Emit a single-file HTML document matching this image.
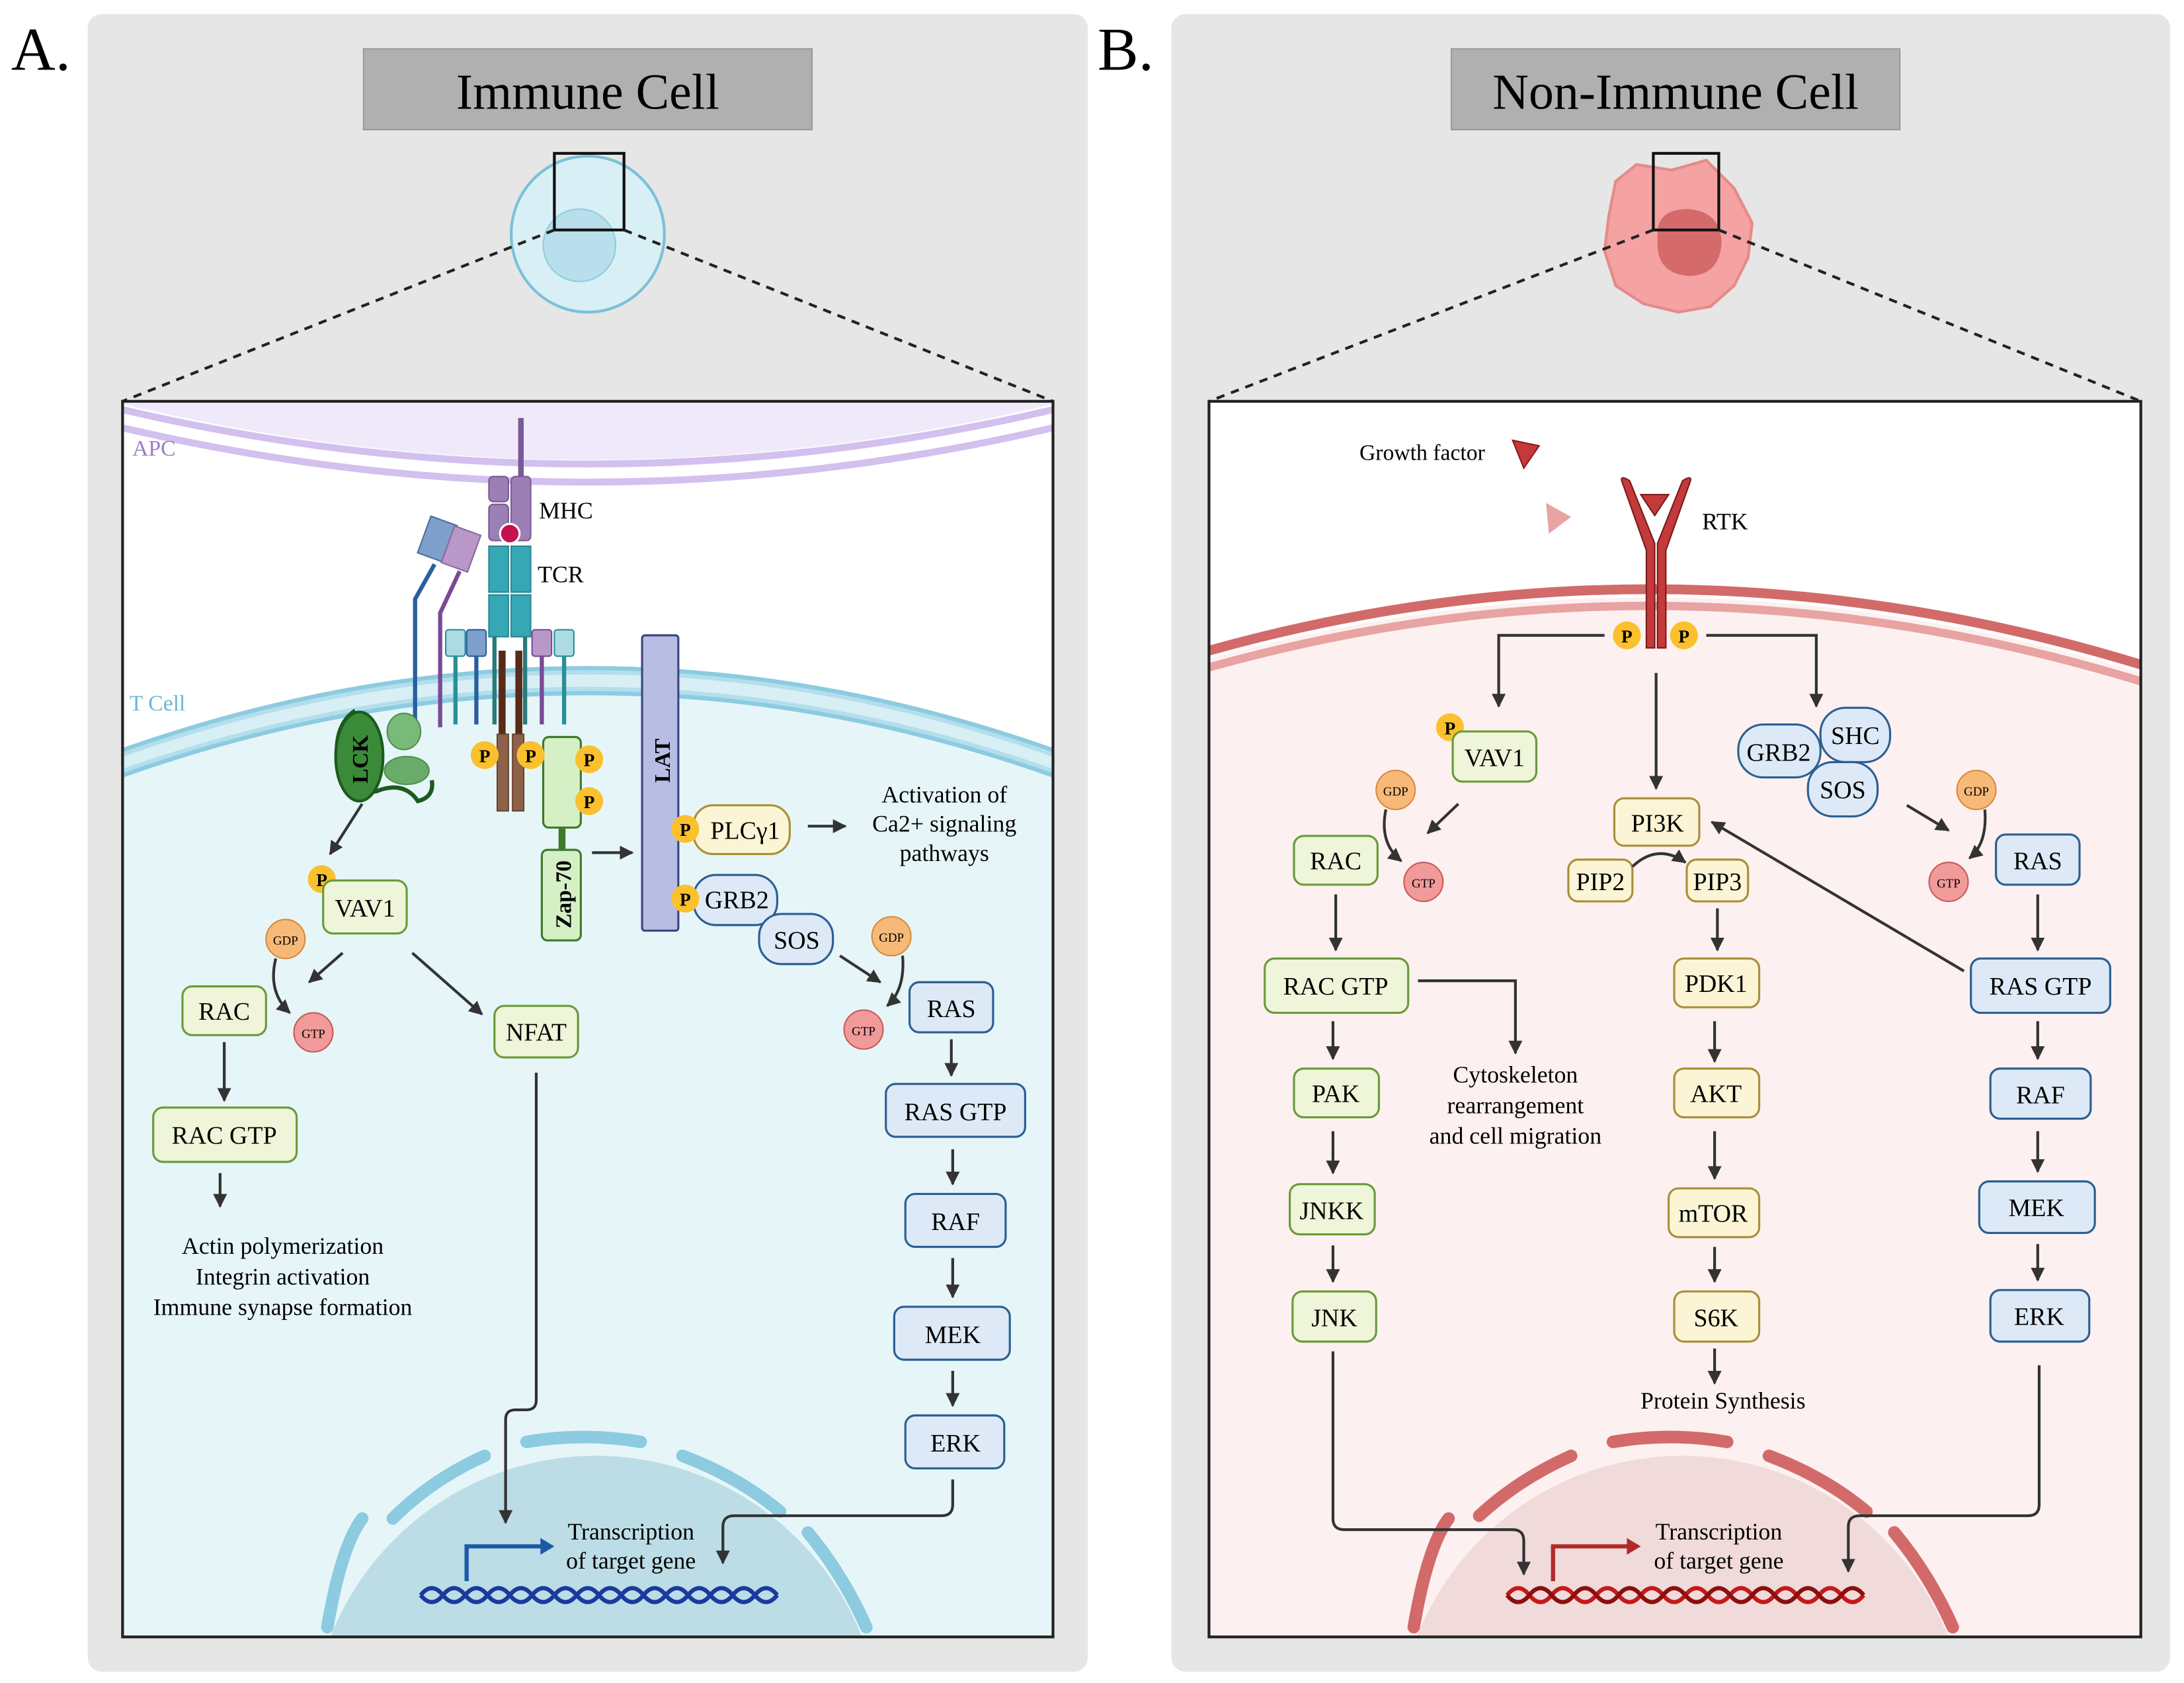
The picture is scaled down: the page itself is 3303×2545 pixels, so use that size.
<!DOCTYPE html>
<html><head><meta charset="utf-8"><style>
html,body{margin:0;padding:0;background:#fff;width:3303px;height:2545px;overflow:hidden;position:relative}
svg{display:block;position:absolute;left:0;top:0}
text{font-family:"Liberation Serif",serif}
</style></head><body>
<svg width="3303" height="2545" viewBox="0 0 1568 1208" xmlns="http://www.w3.org/2000/svg">
<defs>
<marker id="ar" viewBox="0 0 10 10" refX="9" refY="5" markerWidth="5" markerHeight="5" orient="auto"><path d="M0,0 L10,5 L0,10 z" fill="#333"/></marker>
<clipPath id="cA"><rect x="88" y="288" width="668" height="887"/></clipPath>
<clipPath id="cB"><rect x="868" y="288" width="669" height="887"/></clipPath>
</defs>
<rect width="1568" height="1208" fill="#fff"/>
<text x="8" y="50" font-size="44">A.</text>
<text x="788" y="50" font-size="44">B.</text>
<rect x="63" y="10" width="718" height="1190" rx="10" fill="#e6e6e6"/>
<rect x="841" y="10" width="717" height="1190" rx="10" fill="#e6e6e6"/>
<rect x="261" y="35" width="322" height="58" fill="#b0b0b0" stroke="#9a9a9a"/>
<text x="422" y="78" font-size="36" text-anchor="middle">Immune Cell</text>
<rect x="1042" y="35" width="322" height="58" fill="#b0b0b0" stroke="#9a9a9a"/>
<text x="1203" y="78" font-size="36" text-anchor="middle">Non-Immune Cell</text>
<ellipse cx="422" cy="168" rx="55" ry="56" fill="#d8eff5" stroke="#7cc0d8" stroke-width="2"/>
<circle cx="416" cy="176" r="26" fill="#b8dfeb" stroke="#8ecde0"/>
<rect x="398" y="110" width="50" height="55" fill="none" stroke="#111" stroke-width="2"/>
<path d="M1160,130 L1175,118 L1200,122 L1225,115 L1245,135 L1258,160 L1255,185 L1245,205 L1228,220 L1205,224 L1180,218 L1160,205 L1152,180 L1155,155 Z" fill="#f4a2a2" stroke="#e58a8a" stroke-width="2"/>
<path d="M1190,165 Q1192,150 1212,150 Q1236,152 1236,175 Q1234,198 1212,198 Q1190,196 1190,175Z" fill="#d46a6a"/>
<rect x="1187" y="110" width="47" height="55" fill="none" stroke="#111" stroke-width="2"/>
<g stroke="#222" stroke-width="2" stroke-dasharray="6,5">
<line x1="398" y1="165" x2="88" y2="288"/><line x1="448" y1="165" x2="756" y2="288"/>
<line x1="1187" y1="165" x2="868" y2="288"/><line x1="1234" y1="165" x2="1537" y2="288"/>
</g>
<rect x="88" y="288" width="668" height="887" fill="#fff"/>
<g clip-path="url(#cA)">
<path d="M88,290 Q422,370 756,290 L756,288 L88,288Z" fill="#efe9f9"/>
<path d="M88,294 Q422,372 756,294" fill="none" stroke="#d2c0ef" stroke-width="5"/>
<path d="M88,307 Q422,385 756,307" fill="none" stroke="#d2c0ef" stroke-width="5"/>
<path d="M88,540 Q422,422 756,540 L756,1175 L88,1175Z" fill="#e6f6f8"/>
<path d="M88,540 Q422,422 756,540" fill="none" stroke="#8ccbe0" stroke-width="6"/>
<path d="M88,555 Q422,437 756,555" fill="none" stroke="#8ccbe0" stroke-width="6"/>
<path d="M88,540 Q422,422 756,540 L756,555 Q422,437 88,555Z" fill="#cdebf3" opacity="0.6"/>
<path d="M237.2,1175 A205,205 0 0 1 618.8,1175 Z" fill="#bcdde6"/>
<g fill="none" stroke="#8ccbe0" stroke-width="9" stroke-linecap="round">
<path d="M235,1168 Q245,1110 260,1090" /><path d="M282,1090 Q310,1062 348,1045"/>
<path d="M378,1035 Q420,1028 460,1035"/><path d="M490,1045 Q530,1060 560,1085"/>
<path d="M580,1100 Q605,1130 622,1168"/>
</g>
</g>
<rect x="88" y="288" width="668" height="887" fill="none" stroke="#222" stroke-width="2"/>
<text x="95" y="327" font-size="16" fill="#9b7ec2">APC</text>
<text x="93" y="510" font-size="16" fill="#6bb8d3">T Cell</text>
<line x1="374" y1="300" x2="374" y2="345" stroke="#7a5a96" stroke-width="4"/>
<rect x="351" y="342" width="14" height="18" rx="3" fill="#9b7fb5" stroke="#7a5a96"/>
<rect x="351" y="362" width="14" height="26" rx="3" fill="#9b7fb5" stroke="#7a5a96"/>
<rect x="367" y="342" width="14" height="46" rx="3" fill="#9b7fb5" stroke="#7a5a96"/>
<circle cx="366" cy="383" r="7" fill="#c5124f" stroke="#fff" stroke-width="1.5"/>
<rect x="351" y="392" width="14" height="33" fill="#36a7b4" stroke="#2a8793"/>
<rect x="367" y="392" width="14" height="33" fill="#36a7b4" stroke="#2a8793"/>
<rect x="351" y="427" width="14" height="30" fill="#36a7b4" stroke="#2a8793"/>
<rect x="367" y="427" width="14" height="30" fill="#36a7b4" stroke="#2a8793"/>
<line x1="355" y1="457" x2="355" y2="520" stroke="#2b7a7a" stroke-width="3"/>
<line x1="377" y1="457" x2="377" y2="520" stroke="#2b7a7a" stroke-width="3"/>
<rect x="358" y="467" width="5" height="60" fill="#5a2a18"/><rect x="370" y="467" width="5" height="60" fill="#5a2a18"/>
<rect x="357" y="527" width="8" height="55" fill="#8d6248" stroke="#6a4430"/><rect x="368" y="527" width="8" height="55" fill="#8d6248" stroke="#6a4430"/>
<text x="387" y="372" font-size="17">MHC</text>
<text x="386" y="418" font-size="17">TCR</text>
<path d="M298,522 L298,430 L312,405" fill="none" stroke="#2a5f9e" stroke-width="3"/>
<path d="M316,522 L316,440 L330,410" fill="none" stroke="#7a4a96" stroke-width="3"/>
<rect x="304" y="373" width="20" height="28" transform="rotate(20 314 387)" fill="#7f9fcc" stroke="#4a6ea0"/>
<rect x="321" y="380" width="20" height="28" transform="rotate(20 331 394)" fill="#b898c8" stroke="#8a68a0"/>
<g stroke-width="3"><line x1="327" y1="470" x2="327" y2="520" stroke="#2a8f96"/><line x1="342" y1="470" x2="342" y2="520" stroke="#2a5f9e"/><line x1="389" y1="470" x2="389" y2="520" stroke="#7a4a96"/><line x1="405" y1="470" x2="405" y2="520" stroke="#2a8f96"/></g>
<rect x="320" y="452" width="14" height="19" rx="2" fill="#acdbe2" stroke="#2a8f96"/>
<rect x="335" y="452" width="14" height="19" rx="2" fill="#7f9fcc" stroke="#2a5f9e"/>
<rect x="382" y="452" width="14" height="19" rx="2" fill="#b898c8" stroke="#7a4a96"/>
<rect x="398" y="452" width="14" height="19" rx="2" fill="#acdbe2" stroke="#2a8f96"/>
<path d="M255,510 Q240,520 242,545 Q245,570 270,568 Q290,560 300,575 Q312,572 310,560" fill="none" stroke="#1d5a1d" stroke-width="3"/>
<ellipse cx="258" cy="543" rx="17" ry="32" fill="#3a8a3a" stroke="#1d5a1d" stroke-width="2"/>
<ellipse cx="290" cy="525" rx="12" ry="13" fill="#79b979" stroke="#4f8f4f"/>
<ellipse cx="292" cy="553" rx="16" ry="10" fill="#6aab6a" stroke="#4f8f4f"/>
<text x="264" y="545" font-size="16" font-weight="bold" transform="rotate(-90 264 545)" text-anchor="middle">LCK</text>
<rect x="390" y="529" width="27" height="65" rx="4" fill="#d6f0c6" stroke="#3f7a2a" stroke-width="1.5"/>
<rect x="401" y="594" width="5" height="17" fill="#3f7a2a"/>
<rect x="389" y="610" width="28" height="65" rx="4" fill="#d6f0c6" stroke="#3f7a2a" stroke-width="1.5"/>
<text x="410" y="642" font-size="16" font-weight="bold" transform="rotate(-90 410 642)" text-anchor="middle">Zap-70</text>
<rect x="461" y="456" width="26" height="212" rx="2" fill="#b8bde3" stroke="#3c4680" stroke-width="1.5"/>
<text x="481" y="546" font-size="16" font-weight="bold" transform="rotate(-90 481 546)" text-anchor="middle">LAT</text>
<g font-size="13" font-weight="bold" text-anchor="middle">
<circle cx="348" cy="542" r="10" fill="#fbc02d"/><text x="348" y="547">P</text>
<circle cx="381" cy="542" r="10" fill="#fbc02d"/><text x="381" y="547">P</text>
<circle cx="423" cy="545" r="10" fill="#fbc02d"/><text x="423" y="550">P</text>
<circle cx="423" cy="575" r="10" fill="#fbc02d"/><text x="423" y="580">P</text>
</g>
<line x1="425" y1="612" x2="454" y2="612" stroke="#333" stroke-width="2" marker-end="url(#ar)"/>
<rect x="498" y="578" width="69" height="35" rx="14" fill="#fbf5d6" stroke="#a8903a" stroke-width="1.5"/>
<text x="535" y="602" font-size="18" text-anchor="middle">PLCγ1</text>
<rect x="498" y="628" width="60" height="36" rx="16" fill="#dde9f6" stroke="#2a5f93" stroke-width="1.5"/>
<text x="529" y="652" font-size="18" text-anchor="middle">GRB2</text>
<rect x="545" y="656" width="53" height="36" rx="16" fill="#dde9f6" stroke="#2a5f93" stroke-width="1.5"/>
<text x="572" y="681" font-size="18" text-anchor="middle">SOS</text>
<g font-size="13" font-weight="bold" text-anchor="middle">
<circle cx="492" cy="595" r="10" fill="#fbc02d"/><text x="492" y="600">P</text>
<circle cx="492" cy="645" r="10" fill="#fbc02d"/><text x="492" y="650">P</text>
<circle cx="231" cy="631" r="10" fill="#fbc02d"/><text x="231" y="636">P</text>
</g>
<line x1="580" y1="593" x2="607" y2="593" stroke="#333" stroke-width="2" marker-end="url(#ar)"/>
<text x="678" y="576" font-size="17" text-anchor="middle">Activation of</text>
<text x="678" y="597" font-size="17" text-anchor="middle">Ca2+ signaling</text>
<text x="678" y="618" font-size="17" text-anchor="middle">pathways</text>
<g fill="#eef5d8" stroke="#6a9a3a" stroke-width="1.5">
<rect x="232" y="632" width="60" height="38" rx="7"/>
<rect x="131" y="708" width="60" height="35" rx="7"/>
<rect x="110" y="795" width="103" height="39" rx="7"/>
<rect x="355" y="722" width="60" height="37" rx="7"/>
</g>
<g font-size="18" text-anchor="middle">
<text x="262" y="658">VAV1</text><text x="161" y="732">RAC</text><text x="161" y="821">RAC GTP</text><text x="385" y="747">NFAT</text>
</g>
<g fill="#dde9f6" stroke="#2a5f93" stroke-width="1.5">
<rect x="653" y="705" width="60" height="36" rx="7"/>
<rect x="636" y="778" width="100" height="38" rx="7"/>
<rect x="650" y="857" width="72" height="38" rx="7"/>
<rect x="642" y="938" width="83" height="38" rx="7"/>
<rect x="650" y="1016" width="71" height="38" rx="7"/>
</g>
<g font-size="18" text-anchor="middle">
<text x="683" y="730">RAS</text><text x="686" y="804">RAS GTP</text><text x="686" y="883">RAF</text><text x="684" y="964">MEK</text><text x="686" y="1042">ERK</text>
</g>
<g font-size="9" text-anchor="middle">
<circle cx="205" cy="674" r="14" fill="#f7b978" stroke="#d98a3a"/><text x="205" y="678">GDP</text>
<circle cx="225" cy="741" r="14" fill="#f19a9a" stroke="#c85a5a"/><text x="225" y="745">GTP</text>
<circle cx="640" cy="672" r="14" fill="#f7b978" stroke="#d98a3a"/><text x="640" y="676">GDP</text>
<circle cx="620" cy="739" r="14" fill="#f19a9a" stroke="#c85a5a"/><text x="620" y="743">GTP</text>
</g>
<g fill="none" stroke="#333" stroke-width="2" marker-end="url(#ar)">
<line x1="260" y1="577" x2="237" y2="613"/>
<line x1="246" y1="684" x2="222" y2="705"/>
<line x1="296" y1="684" x2="346" y2="728"/>
<path d="M198,688 Q192,712 208,727"/>
<line x1="161" y1="748" x2="161" y2="790"/>
<line x1="158" y1="842" x2="158" y2="866"/>
<line x1="603" y1="686" x2="632" y2="705"/>
<path d="M648,686 Q650,710 637,722"/>
<line x1="683" y1="746" x2="683" y2="772"/>
<line x1="684" y1="825" x2="684" y2="850"/>
<line x1="684" y1="903" x2="684" y2="931"/>
<line x1="684" y1="984" x2="684" y2="1009"/>
<path d="M385,770 L385,1005 Q385,1012 378,1012 L370,1012 Q363,1012 363,1019 L363,1093"/>
<path d="M684,1062 L684,1080 Q684,1088 676,1088 L527,1088 Q519,1088 519,1096 L519,1122"/>
</g>
<g font-size="17" text-anchor="middle">
<text x="203" y="900">Actin polymerization</text><text x="203" y="922">Integrin activation</text><text x="203" y="944">Immune synapse formation</text>
<text x="453" y="1105">Transcription</text><text x="453" y="1126">of target gene</text>
</g>
<path d="M335,1135 L335,1110 L392,1110" fill="none" stroke="#1a5aa8" stroke-width="3"/>
<path d="M388,1104 L398,1110 L388,1116Z" fill="#1a5aa8"/>
<path d="M302,1145 q8,-10 16,0 t16,0 t16,0 t16,0 t16,0 t16,0 t16,0 t16,0 t16,0 t16,0 t16,0 t16,0 t16,0 t16,0 t16,0 t16,0" fill="none" stroke="#1a3a9e" stroke-width="3"/>
<path d="M302,1145 q8,10 16,0 t16,0 t16,0 t16,0 t16,0 t16,0 t16,0 t16,0 t16,0 t16,0 t16,0 t16,0 t16,0 t16,0 t16,0 t16,0" fill="none" stroke="#1a3a9e" stroke-width="3"/>

<rect x="868" y="288" width="669" height="887" fill="#fff"/>
<g clip-path="url(#cB)">
<path d="M868,473 Q1200,380 1537,483 L1537,1175 L868,1175Z" fill="#fdf0f0"/>
<path d="M868,467 Q1200,374 1537,477" fill="none" stroke="#d26a6a" stroke-width="7"/>
<path d="M868,479 Q1200,386 1537,489" fill="none" stroke="#e8a3a3" stroke-width="6"/>
<path d="M1017.2,1175 A205,205 0 0 1 1398.8,1175 Z" fill="#f1dada"/>
<g fill="none" stroke="#d26a6a" stroke-width="9" stroke-linecap="round">
<path d="M1015,1168 Q1025,1110 1040,1090"/><path d="M1062,1088 Q1090,1062 1128,1045"/>
<path d="M1158,1035 Q1200,1028 1240,1035"/><path d="M1270,1045 Q1310,1060 1340,1085"/>
<path d="M1360,1100 Q1385,1130 1402,1168"/>
</g>
</g>
<rect x="868" y="288" width="669" height="887" fill="none" stroke="#222" stroke-width="2"/>
<text x="976" y="330" font-size="16">Growth factor</text>
<path d="M1086,316 L1105,320 L1094,336Z" fill="#c43a3a" stroke="#8a1a1a"/>
<path d="M1110,361 L1128,371 L1112,383Z" fill="#e8a3a3"/>
<path d="M1165,347 Q1162,340 1170,345 L1188,390 L1188,465 L1182,465 L1182,395Z" fill="#c43a3a" stroke="#7a1a1a"/>
<path d="M1213,347 Q1216,340 1208,345 L1190,390 L1190,465 L1196,465 L1196,395Z" fill="#c43a3a" stroke="#7a1a1a"/>
<path d="M1178,355 L1198,355 L1188,370Z" fill="#c43a3a" stroke="#7a1a1a"/>
<text x="1222" y="380" font-size="17">RTK</text>
<g font-size="13" font-weight="bold" text-anchor="middle">
<circle cx="1168" cy="456" r="10" fill="#fbc02d"/><text x="1168" y="461">P</text>
<circle cx="1209" cy="456" r="10" fill="#fbc02d"/><text x="1209" y="461">P</text>
<circle cx="1041" cy="522" r="10" fill="#fbc02d"/><text x="1041" y="527">P</text>
</g>
<g fill="#eef5d8" stroke="#6a9a3a" stroke-width="1.5">
<rect x="1043" y="525" width="60" height="36" rx="7"/>
<rect x="929" y="600" width="60" height="35" rx="7"/>
<rect x="908" y="688" width="103" height="39" rx="7"/>
<rect x="929" y="767" width="61" height="35" rx="7"/>
<rect x="926" y="850" width="61" height="36" rx="7"/>
<rect x="928" y="927" width="60" height="36" rx="7"/>
</g>
<g fill="#fbf5d6" stroke="#a8903a" stroke-width="1.5">
<rect x="1159" y="573" width="61" height="34" rx="7"/>
<rect x="1126" y="617" width="46" height="30" rx="7"/>
<rect x="1211" y="617" width="44" height="30" rx="7"/>
<rect x="1202" y="688" width="61" height="35" rx="7"/>
<rect x="1202" y="767" width="61" height="35" rx="7"/>
<rect x="1198" y="853" width="65" height="35" rx="7"/>
<rect x="1202" y="927" width="61" height="36" rx="7"/>
</g>
<g fill="#dde9f6" stroke="#2a5f93" stroke-width="1.5">
<rect x="1248" y="520" width="59" height="38" rx="18"/>
<rect x="1307" y="508" width="50" height="39" rx="18"/>
<rect x="1298" y="547" width="50" height="39" rx="18"/>
<rect x="1433" y="599" width="60" height="36" rx="7"/>
<rect x="1415" y="688" width="100" height="39" rx="7"/>
<rect x="1429" y="767" width="72" height="36" rx="7"/>
<rect x="1421" y="848" width="83" height="37" rx="7"/>
<rect x="1429" y="926" width="71" height="37" rx="7"/>
</g>
<g font-size="18" text-anchor="middle">
<text x="1073" y="550">VAV1</text><text x="959" y="624">RAC</text><text x="959" y="714">RAC GTP</text>
<text x="959" y="791">PAK</text><text x="956" y="875">JNKK</text><text x="958" y="952">JNK</text>
<text x="1190" y="597">PI3K</text><text x="1149" y="639">PIP2</text><text x="1233" y="639">PIP3</text>
<text x="1232" y="712">PDK1</text><text x="1232" y="791">AKT</text><text x="1230" y="877">mTOR</text><text x="1232" y="952">S6K</text>
<text x="1277" y="546">GRB2</text><text x="1332" y="534">SHC</text><text x="1323" y="573">SOS</text>
<text x="1463" y="624">RAS</text><text x="1465" y="714">RAS GTP</text><text x="1465" y="792">RAF</text><text x="1462" y="873">MEK</text><text x="1464" y="951">ERK</text>
</g>
<g font-size="9" text-anchor="middle">
<circle cx="1002" cy="567" r="14" fill="#f7b978" stroke="#d98a3a"/><text x="1002" y="571">GDP</text>
<circle cx="1022" cy="633" r="14" fill="#f19a9a" stroke="#c85a5a"/><text x="1022" y="637">GTP</text>
<circle cx="1419" cy="567" r="14" fill="#f7b978" stroke="#d98a3a"/><text x="1419" y="571">GDP</text>
<circle cx="1399" cy="633" r="14" fill="#f19a9a" stroke="#c85a5a"/><text x="1399" y="637">GTP</text>
</g>
<g fill="none" stroke="#333" stroke-width="2" marker-end="url(#ar)">
<path d="M1152,456 L1076,456 L1076,507"/>
<path d="M1225,456 L1304,456 L1304,507"/>
<line x1="1189" y1="483" x2="1189" y2="566"/>
<line x1="1047" y1="577" x2="1025" y2="598"/>
<path d="M995,581 Q990,605 1006,618"/>
<line x1="1369" y1="578" x2="1399" y2="596"/>
<path d="M1425,581 Q1427,605 1414,616"/>
<line x1="959" y1="642" x2="959" y2="682"/>
<path d="M1018,704 L1088,704 L1088,756"/>
<line x1="957" y1="733" x2="957" y2="760"/>
<line x1="957" y1="812" x2="957" y2="842"/>
<line x1="957" y1="894" x2="957" y2="920"/>
<path d="M1172,622 Q1190,605 1210,619"/>
<line x1="1233" y1="652" x2="1233" y2="682"/>
<line x1="1231" y1="733" x2="1231" y2="762"/>
<line x1="1231" y1="812" x2="1231" y2="846"/>
<line x1="1231" y1="895" x2="1231" y2="920"/>
<line x1="1231" y1="968" x2="1231" y2="993"/>
<line x1="1410" y1="697" x2="1229" y2="590"/>
<line x1="1463" y1="642" x2="1463" y2="682"/>
<line x1="1463" y1="733" x2="1463" y2="760"/>
<line x1="1463" y1="812" x2="1463" y2="841"/>
<line x1="1463" y1="893" x2="1463" y2="919"/>
<path d="M957,970 L957,1090 Q957,1098 965,1098 L1086,1098 Q1094,1098 1094,1106 L1094,1130"/>
<path d="M1464,980 L1464,1080 Q1464,1088 1456,1088 L1335,1088 Q1327,1088 1327,1096 L1327,1128"/>
</g>
<g font-size="17" text-anchor="middle">
<text x="1088" y="777">Cytoskeleton</text><text x="1088" y="799">rearrangement</text><text x="1088" y="821">and cell migration</text>
<text x="1237" y="1011">Protein Synthesis</text>
<text x="1234" y="1105">Transcription</text><text x="1234" y="1126">of target gene</text>
</g>
<path d="M1115,1135 L1115,1110 L1172,1110" fill="none" stroke="#b02a2a" stroke-width="3"/>
<path d="M1168,1104 L1178,1110 L1168,1116Z" fill="#b02a2a"/>
<path d="M1082,1145 q8,-10 16,0 t16,0 t16,0 t16,0 t16,0 t16,0 t16,0 t16,0 t16,0 t16,0 t16,0 t16,0 t16,0 t16,0 t16,0 t16,0" fill="none" stroke="#c41a1a" stroke-width="3"/>
<path d="M1082,1145 q8,10 16,0 t16,0 t16,0 t16,0 t16,0 t16,0 t16,0 t16,0 t16,0 t16,0 t16,0 t16,0 t16,0 t16,0 t16,0 t16,0" fill="none" stroke="#8a1010" stroke-width="3"/>
</svg>
</body></html>
